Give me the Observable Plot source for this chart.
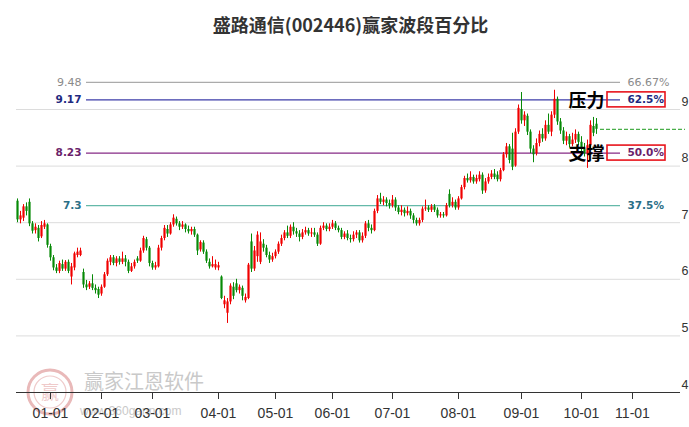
<!DOCTYPE html>
<html><head><meta charset="utf-8">
<script src="https://cdn.jsdelivr.net/npm/d3@7"></script>
<script src="https://cdn.jsdelivr.net/npm/@observablehq/plot@0.6"></script>
<style>
html,body{margin:0;padding:0;background:#fff;}
#wrap{position:relative;width:689px;height:427px;overflow:hidden;background:#fff;}
#title{position:relative;height:45px;line-height:49px;text-align:center;padding-left:12px;font-family:"Noto Sans CJK SC","Noto Sans",sans-serif;font-weight:bold;font-size:18px;color:#333;}
#chart{position:absolute;left:0;top:45px;z-index:2;}
#wm{position:absolute;left:0;top:0;width:689px;height:427px;z-index:1;}
.wmt{position:absolute;font-family:"Noto Sans CJK SC",sans-serif;color:#c9c9c9;white-space:nowrap;}
</style></head><body>
<div id="wrap">
  <div id="title">盛路通信(002446)赢家波段百分比</div>
  <div id="wm">
    <svg width="689" height="427" style="position:absolute;left:0;top:0">
      <circle cx="50" cy="392" r="22" fill="none" stroke="#e9b9b9" stroke-width="3"/>
      <circle cx="50" cy="392" r="16" fill="none" stroke="#efcaca" stroke-width="1.2"/>
      <text x="50" y="399" text-anchor="middle" font-family="Noto Sans CJK SC" font-size="18" fill="#efcaca">赢</text>
    </svg>
    <div class="wmt" style="left:84px;top:366px;font-size:20px;">赢家江恩软件</div>
    <div class="wmt" style="left:80px;top:404px;font-size:12px;font-family:'Liberation Sans',Arial,sans-serif;">www.360gann.com</div>
  </div>
  <div id="chart"></div>
</div>
<script>
// ---- data ----
const opens = [
7.38,7.05,7.08,7.28,7.36,6.98,6.86,6.90,6.75,6.92,
6.96,6.58,6.38,6.20,6.14,6.26,6.18,6.30,6.04,6.20,
6.42,6.42,6.12,5.90,5.86,5.92,5.84,5.82,5.74,5.86,
6.08,6.30,6.38,6.28,6.36,6.30,6.36,6.30,6.14,6.22,
6.36,6.32,6.50,6.70,6.55,6.28,6.20,6.22,6.55,6.72,
6.88,6.80,6.96,7.06,6.98,6.92,6.96,6.88,6.84,6.88,
6.78,6.52,6.64,6.48,6.30,6.22,6.20,6.20,6.04,5.55,
5.40,5.60,5.86,5.92,5.80,5.84,5.62,5.66,6.66,6.18,
6.40,6.30,6.62,6.55,6.42,6.34,6.40,6.48,6.62,6.72,
6.82,6.76,6.92,6.84,6.80,6.74,6.82,6.86,6.80,6.82,
6.78,6.62,6.90,6.94,6.88,6.92,6.98,6.90,6.86,6.74,
6.80,6.72,6.70,6.78,6.82,6.68,6.76,6.98,6.90,6.86,
7.20,7.42,7.36,7.40,7.34,7.30,7.40,7.26,7.18,7.22,
7.16,7.20,7.12,7.04,6.98,7.04,7.24,7.26,7.22,7.28,
7.22,7.12,7.14,7.12,7.50,7.30,7.36,7.26,7.42,7.62,
7.78,7.74,7.80,7.72,7.76,7.84,7.56,7.72,7.80,7.86,
7.84,7.76,7.92,8.20,8.34,8.30,8.00,8.60,9.00,8.80,
8.88,8.60,8.30,8.22,8.40,8.56,8.48,8.72,8.60,8.90,
9.18,8.78,8.62,8.44,8.52,8.38,8.46,8.56,8.42,8.30,
8.22,8.36,8.70,8.74];
const closes = [
7.05,7.12,7.28,7.20,6.98,6.85,6.92,6.72,6.95,6.98,
6.60,6.38,6.20,6.14,6.28,6.18,6.30,6.14,6.22,6.45,
6.48,6.50,5.90,5.85,5.92,5.84,5.80,5.72,5.86,6.08,
6.32,6.38,6.28,6.36,6.30,6.36,6.30,6.14,6.22,6.30,
6.32,6.50,6.72,6.55,6.28,6.20,6.24,6.55,6.72,6.90,
6.80,6.96,7.08,6.98,6.92,6.96,6.88,6.84,6.88,6.78,
6.50,6.65,6.48,6.32,6.22,6.26,6.26,6.24,5.66,5.62,
5.60,5.88,5.70,5.80,5.86,5.70,5.68,6.25,6.18,6.50,
6.78,6.66,6.55,6.42,6.34,6.40,6.48,6.62,6.72,6.82,
6.76,6.92,6.84,6.80,6.74,6.82,6.86,6.80,6.82,6.78,
6.62,6.90,6.94,6.88,6.92,6.98,6.90,6.86,6.74,6.80,
6.72,6.70,6.78,6.82,6.68,6.76,6.98,6.90,6.86,7.20,
7.42,7.36,7.40,7.34,7.30,7.40,7.26,7.18,7.22,7.16,
7.20,7.12,7.04,6.98,7.04,7.24,7.26,7.22,7.28,7.22,
7.12,7.14,7.12,7.30,7.30,7.36,7.26,7.42,7.62,7.78,
7.74,7.80,7.72,7.78,7.84,7.56,7.72,7.80,7.86,7.80,
7.76,7.92,8.20,8.34,8.10,7.98,8.60,9.02,8.80,8.90,
8.60,8.30,8.20,8.40,8.56,8.48,8.72,8.60,8.90,9.18,
8.78,8.62,8.44,8.52,8.38,8.46,8.56,8.42,8.30,8.22,
8.36,8.72,8.58,8.65];
const highs = [
7.42,7.20,7.32,7.35,7.42,7.02,6.98,6.95,7.02,7.04,
6.98,6.62,6.42,6.26,6.32,6.34,6.33,6.34,6.28,6.48,
6.55,6.55,6.18,5.98,5.96,6.08,5.90,5.86,5.90,6.12,
6.36,6.42,6.42,6.40,6.40,6.48,6.42,6.34,6.28,6.34,
6.40,6.55,6.76,6.74,6.58,6.32,6.30,6.60,6.76,6.95,
6.95,7.00,7.14,7.10,7.02,7.02,6.98,6.94,6.92,6.92,
6.80,6.68,6.68,6.52,6.36,6.40,6.34,6.30,6.06,5.70,
5.66,5.92,5.94,6.00,5.90,5.88,5.74,6.28,6.80,6.58,
6.84,6.82,6.70,6.60,6.48,6.46,6.52,6.66,6.78,6.86,
6.94,6.96,7.00,6.90,6.86,6.88,6.92,6.90,6.90,6.90,
6.82,6.94,7.00,6.98,6.98,7.04,7.02,6.94,6.90,6.84,
6.86,6.78,6.84,6.86,6.86,6.82,7.02,7.04,6.96,7.24,
7.48,7.52,7.46,7.44,7.40,7.48,7.44,7.30,7.30,7.26,
7.28,7.24,7.16,7.08,7.08,7.28,7.40,7.30,7.32,7.32,
7.26,7.18,7.18,7.34,7.58,7.44,7.40,7.46,7.66,7.82,
7.86,7.90,7.84,7.84,7.90,7.88,7.78,7.86,7.92,7.94,
7.90,7.96,8.24,8.40,8.38,8.58,8.66,9.08,9.30,8.96,
8.92,8.64,8.36,8.48,8.62,8.66,8.80,8.92,8.96,9.34,
9.22,8.84,8.68,8.60,8.56,8.58,8.64,8.60,8.52,8.40,
8.46,8.80,8.86,8.84];
const lows = [
7.00,6.98,7.02,7.12,6.93,6.80,6.80,6.66,6.72,6.88,
6.55,6.32,6.15,6.10,6.10,6.14,6.14,6.10,5.90,6.15,
6.38,6.40,5.84,5.80,5.82,5.80,5.74,5.66,5.70,5.84,
6.05,6.24,6.24,6.22,6.25,6.26,6.22,6.10,6.12,6.18,
6.28,6.30,6.46,6.50,6.22,6.16,6.16,6.20,6.50,6.68,
6.74,6.78,6.92,6.94,6.86,6.88,6.82,6.80,6.78,6.74,
6.42,6.48,6.44,6.28,6.18,6.20,6.16,6.15,5.64,5.48,
5.22,5.55,5.64,5.76,5.74,5.62,5.58,5.64,6.12,6.14,
6.30,6.26,6.48,6.38,6.28,6.30,6.36,6.44,6.58,6.68,
6.72,6.72,6.78,6.74,6.66,6.70,6.78,6.76,6.74,6.74,
6.58,6.60,6.86,6.84,6.84,6.88,6.86,6.82,6.70,6.70,
6.68,6.64,6.66,6.72,6.64,6.64,6.72,6.84,6.80,6.84,
7.16,7.32,7.30,7.28,7.24,7.26,7.20,7.14,7.12,7.10,
7.12,7.06,6.98,6.94,6.94,7.00,7.20,7.18,7.18,7.18,
7.08,7.08,7.08,7.10,7.26,7.26,7.22,7.22,7.40,7.58,
7.70,7.70,7.68,7.68,7.72,7.50,7.52,7.68,7.76,7.76,
7.72,7.72,7.90,8.14,8.04,7.92,7.98,8.56,8.74,8.70,
8.54,8.22,8.06,8.18,8.34,8.42,8.44,8.56,8.52,8.84,
8.72,8.56,8.38,8.36,8.32,8.34,8.40,8.36,8.24,8.16,
7.96,8.30,8.52,8.56];

const monthLabels = ["01-01","02-01","03-01","04-01","05-01","06-01","07-01","08-01","09-01","10-01","11-01"];
const monthIndex  = [11, 28, 45, 67, 86, 105, 125, 147, 168, 188, 205];
const yTicks = [4, 5, 6, 7, 8, 9];

const fibValues   = [9.48, 9.17, 8.23, 7.3];
const fibLabels   = ["9.48", "9.17", "8.23", "7.3"];
const fibPercents = ["66.67%", "62.5%", "50.0%", "37.5%"];
const fibLineColors = ["#ababab", "#3c3ca8", "#862a86", "#64b9a9"];
const fibTextColors = ["#8a8a8a", "#1f2a80", "#6b1f6b", "#2b6f87"];
const fibBold = [false, true, true, true];

const zoneValues = [9.17, 8.23];
const zoneTags   = ["压力", "支撑"];

// ---- tables ----
const candles = opens.map((o, i) => ({i, o, c: closes[i], h: highs[i], l: lows[i],
  col: closes[i] >= o ? "#f00000" : "#078a07"}));
const fib = fibValues.map((v, k) => ({v, label: fibLabels[k], pct: fibPercents[k],
  line: fibLineColors[k], text: fibTextColors[k], bold: fibBold[k]}));
const zones = zoneValues.map((v, k) => ({v, tag: zoneTags[k]}));
const months = monthIndex.map((i, k) => ({i, label: monthLabels[k]}));
const last = candles[candles.length - 1];

const axisFont = "'Liberation Sans Narrow','Liberation Sans',Arial,sans-serif";
const fibFont = "'DejaVu Sans',Verdana,sans-serif";

const chart = Plot.plot({
  width: 689, height: 382,
  marginLeft: 16, marginRight: 9, marginTop: 64, marginBottom: 35,
  x: {domain: [-1/3, 221], axis: null},
  y: {domain: [4, 9], axis: null},
  style: {background: "transparent", overflow: "visible", fontFamily: axisFont},
  marks: [
    Plot.ruleY(yTicks.filter(d => d > 4), {stroke: "#dcdcdc", strokeWidth: 1}),
    Plot.ruleY(fib, {y: "v", stroke: "line", strokeWidth: 1.3, insetLeft: 70, insetRight: 60}),
    Plot.ruleX(candles, {x: "i", y1: "l", y2: "h", stroke: "col", strokeWidth: 1}),
    Plot.ruleX(candles, {x: "i", y1: "o", y2: "c", stroke: "col", strokeWidth: 2.2}),
    Plot.ruleY([last], {y: "c", x1: "i", x2: "i", insetLeft: 4, insetRight: -89, stroke: "#1d9a1d", strokeDasharray: "4,2"}),
    // fib labels
    Plot.text(fib.filter(d => !d.bold), {y: "v", text: "label", frameAnchor: "left", dx: 65, textAnchor: "end", fill: "text", fontFamily: fibFont, fontSize: 11}),
    Plot.text(fib.filter(d => d.bold), {y: "v", text: "label", frameAnchor: "left", dx: 65, textAnchor: "end", fill: "text", fontFamily: fibFont, fontSize: 10.5, fontWeight: "bold"}),
    Plot.text(fib.filter(d => !d.bold), {y: "v", text: "pct", frameAnchor: "right", dx: -53, textAnchor: "start", fill: "text", fontFamily: fibFont, fontSize: 11}),
    Plot.text(fib.filter(d => d.bold), {y: "v", text: "pct", frameAnchor: "right", dx: -53, textAnchor: "start", fill: "text", fontFamily: fibFont, fontSize: 10.5, fontWeight: "bold"}),
    Plot.rect(zones, {y1: "v", y2: "v", insetTop: -7.5, insetBottom: -7.5, insetLeft: 591, insetRight: 15, fill: "none", stroke: "#e8141c", strokeWidth: 1.6}),
    Plot.text(zones, {y: "v", text: "tag", frameAnchor: "right", dx: -112, dy: 1, textAnchor: "start", fill: "#000", fontFamily: "'Noto Sans CJK SC',sans-serif", fontWeight: "bold", fontSize: 18}),
    // y axis labels (right)
    Plot.text(yTicks, {y: d => d, text: d => String(d), frameAnchor: "right", dx: 1, dy: -8, textAnchor: "start", fill: "#333", fontSize: 12.5}),
    // x axis
    Plot.ruleY([4], {stroke: "#333", strokeWidth: 1}),
    Plot.ruleX(months, {x: "i", y1: 4, y2: 4, insetBottom: -7, stroke: "#333"}),
    Plot.text(months, {x: "i", y: 4, text: "label", dy: 21, fill: "#333", fontSize: 14})
  ]
});
document.getElementById("chart").appendChild(chart);
</script>
</body></html>
